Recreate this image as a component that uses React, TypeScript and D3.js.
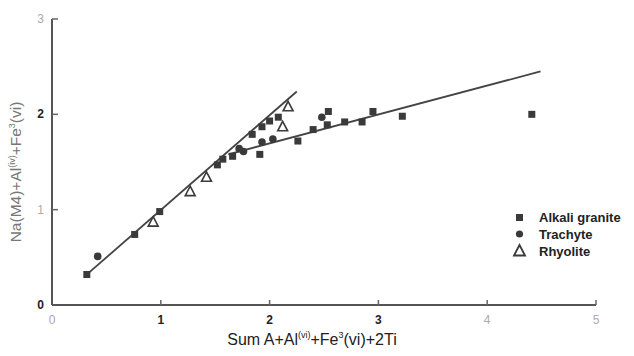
import React from "react";
import * as d3 from "d3";

const xTicks = [0, 1, 2, 3, 4, 5];
const yTicks = [0, 1, 2, 3];

const graniteX = [0.32, 0.76, 0.99, 1.52, 1.57, 1.66, 1.84, 1.93, 2.0, 2.08, 1.91, 2.26, 2.4, 2.53, 2.54, 2.69, 2.85, 2.95, 3.22, 4.41];
const graniteY = [0.32, 0.74, 0.98, 1.47, 1.53, 1.56, 1.79, 1.87, 1.93, 1.97, 1.58, 1.72, 1.84, 1.89, 2.03, 1.92, 1.92, 2.03, 1.98, 2.0];

const trachyteX = [0.42, 1.76, 1.93, 2.03, 2.48, 1.72];
const trachyteY = [0.51, 1.61, 1.71, 1.74, 1.97, 1.64];

const rhyoliteX = [0.93, 1.27, 1.42, 2.12, 2.17];
const rhyoliteY = [0.87, 1.19, 1.34, 1.87, 2.08];

const steepLineX = [0.3, 2.25];
const steepLineY = [0.3, 2.24];
const flatLineX = [1.62, 4.49];
const flatLineY = [1.58, 2.45];

const legendItems = ["Alkali granite", "Trachyte", "Rhyolite"];

export default function App() {
  const W = 634, H = 356;
  const x = d3.scaleLinear().domain([0, 5]).range([52, 596]);
  const y = d3.scaleLinear().domain([0, 3]).range([305, 19]);
  const line = d3.line<[number, number]>().x(d => x(d[0])).y(d => y(d[1]));
  const steep: [number, number][] = steepLineX.map((v, i) => [v, steepLineY[i]]);
  const flat: [number, number][] = flatLineX.map((v, i) => [v, flatLineY[i]]);
  const mark = "#3a3a3a";
  const sq = 7;
  const tri = (cx: number, cy: number, s: number) =>
    `M${cx},${cy - s * 0.6} L${cx + s * 0.55},${cy + s * 0.45} L${cx - s * 0.55},${cy + s * 0.45} Z`;
  const boldX = new Set([1, 2, 3]);
  const boldY = new Set([0, 2]);

  return (
    <svg width={W} height={H} style={{ position: "absolute", left: 0, top: 0, background: "#fff" }}
      fontFamily="Liberation Sans, Arial, sans-serif">
      {/* axes */}
      <line x1={x(0)} x2={x(5)} y1={y(0)} y2={y(0)} stroke="#555" strokeWidth={2} />
      <line x1={x(0)} x2={x(0)} y1={y(0)} y2={y(3)} stroke="#555" strokeWidth={2} />
      {xTicks.slice(1).map(t => (
        <line key={"xt" + t} x1={x(t)} x2={x(t)} y1={y(0) - 5} y2={y(0)} stroke="#666" strokeWidth={1.5} />
      ))}
      {yTicks.slice(1).map(t => (
        <line key={"yt" + t} x1={x(0)} x2={x(0) + 6} y1={y(t)} y2={y(t)} stroke="#666" strokeWidth={1.5} />
      ))}
      {xTicks.map(t => (
        <text key={"xl" + t} x={x(t)} y={y(0) + 19} textAnchor="middle" fontSize={12}
          fontWeight={boldX.has(t) ? "bold" : "normal"} fill={boldX.has(t) ? "#222" : "#aaa"}>{t}</text>
      ))}
      {yTicks.map(t => (
        <text key={"yl" + t} x={x(0) - 8} y={y(t) + 4} textAnchor="end" fontSize={12}
          fontWeight={boldY.has(t) ? "bold" : "normal"} fill={boldY.has(t) ? "#222" : "#aaa"}>{t}</text>
      ))}
      {/* axis titles */}
      <text x={312} y={345} textAnchor="middle" fontSize={16} fill="#222">
        Sum  A+Al<tspan fontSize={9} dy={-7}>(vi)</tspan><tspan dy={7}>+Fe</tspan><tspan fontSize={9} dy={-7}>3</tspan><tspan dy={7}>(vi)+2Ti</tspan>
      </text>
      <text transform={`translate(21,172) rotate(-90)`} textAnchor="middle" fontSize={15.5} fill="#777">
        Na(M4)+Al<tspan fontSize={9} dy={-6}>(iv)</tspan><tspan dy={6}>+Fe</tspan><tspan fontSize={9} dy={-6}>3</tspan><tspan dy={6}>(vi)</tspan>
      </text>
      {/* fit lines */}
      <path d={line(steep) || ""} stroke="#444" strokeWidth={1.8} fill="none" />
      <path d={line(flat) || ""} stroke="#444" strokeWidth={1.8} fill="none" />
      {/* points */}
      {graniteX.map((v, i) => (
        <rect key={"g" + i} x={x(v) - sq / 2} y={y(graniteY[i]) - sq / 2} width={sq} height={sq} fill={mark} />
      ))}
      {trachyteX.map((v, i) => (
        <circle key={"t" + i} cx={x(v)} cy={y(trachyteY[i])} r={3.8} fill={mark} />
      ))}
      {rhyoliteX.map((v, i) => (
        <path key={"r" + i} d={tri(x(v), y(rhyoliteY[i]), 9)} fill="#fff" stroke={mark} strokeWidth={1.6} />
      ))}
      {/* legend */}
      <g fontSize={13} fontWeight="bold" fill="#222">
        <rect x={516} y={214} width={7} height={7} fill={mark} />
        <text x={539} y={222}>{legendItems[0]}</text>
        <circle cx={519.5} cy={234} r={3.6} fill={mark} />
        <text x={539} y={239}>{legendItems[1]}</text>
        <path d={tri(519.5, 251, 10)} fill="#fff" stroke={mark} strokeWidth={1.8} />
        <text x={539} y={256}>{legendItems[2]}</text>
      </g>
    </svg>
  );
}
